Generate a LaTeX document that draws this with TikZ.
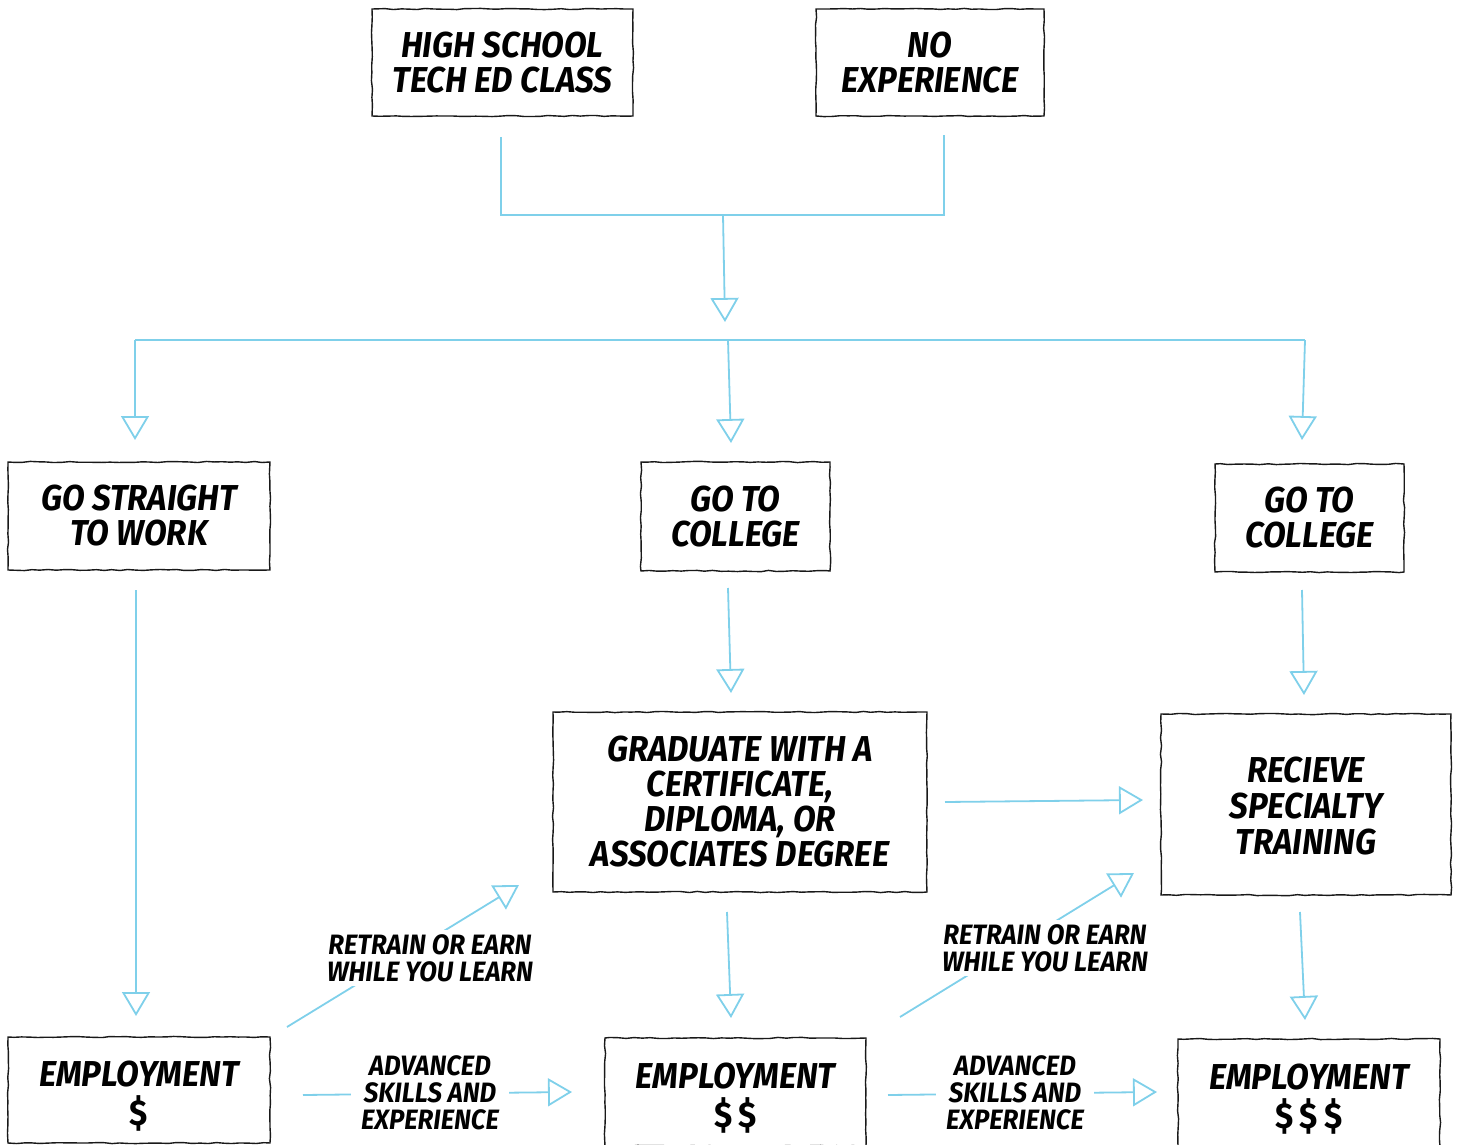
\documentclass[tikz,border=0pt]{standalone}
\usepackage{fontspec}
\setmainfont{Fira Sans}[FakeStretch=0.92]
\usetikzlibrary{arrows.meta,decorations.pathmorphing}
\definecolor{chalk}{HTML}{7FD0EA}
\newcommand\dol{{\upshape\$}}
\newcommand\emptext[1]{\begin{tabular}{@{}c@{}}\rule{0pt}{21.25pt}EMPLOYMENT\\[-1pt]#1\end{tabular}}
\begin{document}
\begin{tikzpicture}[x=0.5pt,y=-0.5pt,
  box/.style={draw=black!90, line width=0.7pt, decorate,
    decoration={random steps,segment length=4pt,amplitude=0.3pt},
    font=\bfseries\itshape\fontsize{18}{17.5}\selectfont, align=center, inner sep=0pt},
  flow/.style={draw=chalk, line width=0.9pt,
    -{Triangle[open,length=12pt,width=14pt,fill=white]}},
  wire/.style={draw=chalk, line width=0.9pt},
  lab/.style={font=\bfseries\itshape\fontsize{14}{13.5}\selectfont, align=center,
    fill=white, inner sep=2pt}]
\useasboundingbox (0,0) rectangle (1458,1145);
% boxes
\node[box, minimum width=130.5pt, minimum height=53.5pt] (hs) at (502.5,62.5) {HIGH SCHOOL\\TECH ED CLASS};
\node[box, minimum width=114pt, minimum height=53.5pt] (no) at (930,62.5) {NO\\EXPERIENCE};
\node[box, minimum width=131pt, minimum height=54pt] (gsw) at (139,516) {GO STRAIGHT\\TO WORK};
\node[box, minimum width=94.5pt, minimum height=54.5pt] (gtc) at (735.5,516.5) {GO TO\\COLLEGE};
\node[box, minimum width=94.5pt, minimum height=54pt] (gtcb) at (1309.5,518) {GO TO\\COLLEGE};
\node[box, minimum width=187pt, minimum height=90pt] (grad) at (740,802) {GRADUATE WITH A\\CERTIFICATE,\\DIPLOMA, OR\\ASSOCIATES DEGREE};
\node[box, minimum width=145pt, minimum height=90.5pt] (rec) at (1306,804.5) {\begin{tabular}{@{}c@{}}\rule{0pt}{19.25pt}RECIEVE\\SPECIALTY\\TRAINING\end{tabular}};
\node[box, minimum width=131pt, minimum height=53pt] (ea) at (139,1090) {\emptext{\dol}};
\node[box, minimum width=130.5pt, minimum height=54pt] (eb) at (735.5,1092) {\emptext{\dol\,\dol}};
\node[box, minimum width=131pt, minimum height=54pt] (ec) at (1309,1093) {\emptext{\dol\,\dol\,\dol}};
% connector points
\coordinate (hsb) at (501,137);
\coordinate (nob) at (944,135);
\coordinate (mj) at (723,215);
\coordinate (sp) at (725,322);
\coordinate (hl) at (135,340);
\coordinate (hm) at (728,340);
\coordinate (hr) at (1305,340);
\coordinate (gswt) at (135,440);
\coordinate (gtct) at (731,443);
\coordinate (gtcbt) at (1302,440);
\coordinate (gswb) at (136,590);
\coordinate (eat) at (136,1016);
\coordinate (gtcb1) at (728,588);
\coordinate (gradt) at (731,693);
\coordinate (gtcbb) at (1302,590);
\coordinate (rect) at (1304,695);
\coordinate (gradr) at (945,802);
\coordinate (recl) at (1143,800);
\coordinate (gradb) at (727,912);
\coordinate (ebt) at (731,1018);
\coordinate (recb) at (1300,912);
\coordinate (ect) at (1305,1020);
\coordinate (ear) at (287,1027);
\coordinate (gradbl) at (519,885);
\coordinate (ebr) at (900,1017);
\coordinate (recbl) at (1134,873);
\coordinate (ear2) at (303,1095);
\coordinate (ebl) at (572,1092);
\coordinate (ebr2) at (888,1095);
\coordinate (ecl) at (1157,1092);
% connectors
\draw[wire] (hsb) |- (mj) -| (nob);
\draw[flow] (mj) -- (sp);
\draw[wire] (hl) -- (hr);
\draw[flow] (hl) -- (gswt);
\draw[flow] (hm) -- (gtct);
\draw[flow] (hr) -- (gtcbt);
\draw[flow] (gswb) -- (eat);
\draw[flow] (gtcb1) -- (gradt);
\draw[flow] (gtcbb) -- (rect);
\draw[flow] (gradr) -- (recl);
\draw[flow] (gradb) -- (ebt);
\draw[flow] (recb) -- (ect);
\draw[flow] (ear) -- (gradbl);
\draw[flow] (ebr) -- (recbl);
\draw[flow] (ear2) -- (ebl);
\draw[flow] (ebr2) -- (ecl);
% labels
\node[lab] (l1) at (430,958) {RETRAIN OR EARN\\WHILE YOU LEARN};
\node[lab] (l2) at (1045,948) {RETRAIN OR EARN\\WHILE YOU LEARN};
\node[lab, inner xsep=5pt] (a1) at (430,1093) {ADVANCED\\SKILLS AND\\EXPERIENCE};
\node[lab, inner xsep=5pt] (a2) at (1015,1093) {ADVANCED\\SKILLS AND\\EXPERIENCE};
\end{tikzpicture}
\end{document}
